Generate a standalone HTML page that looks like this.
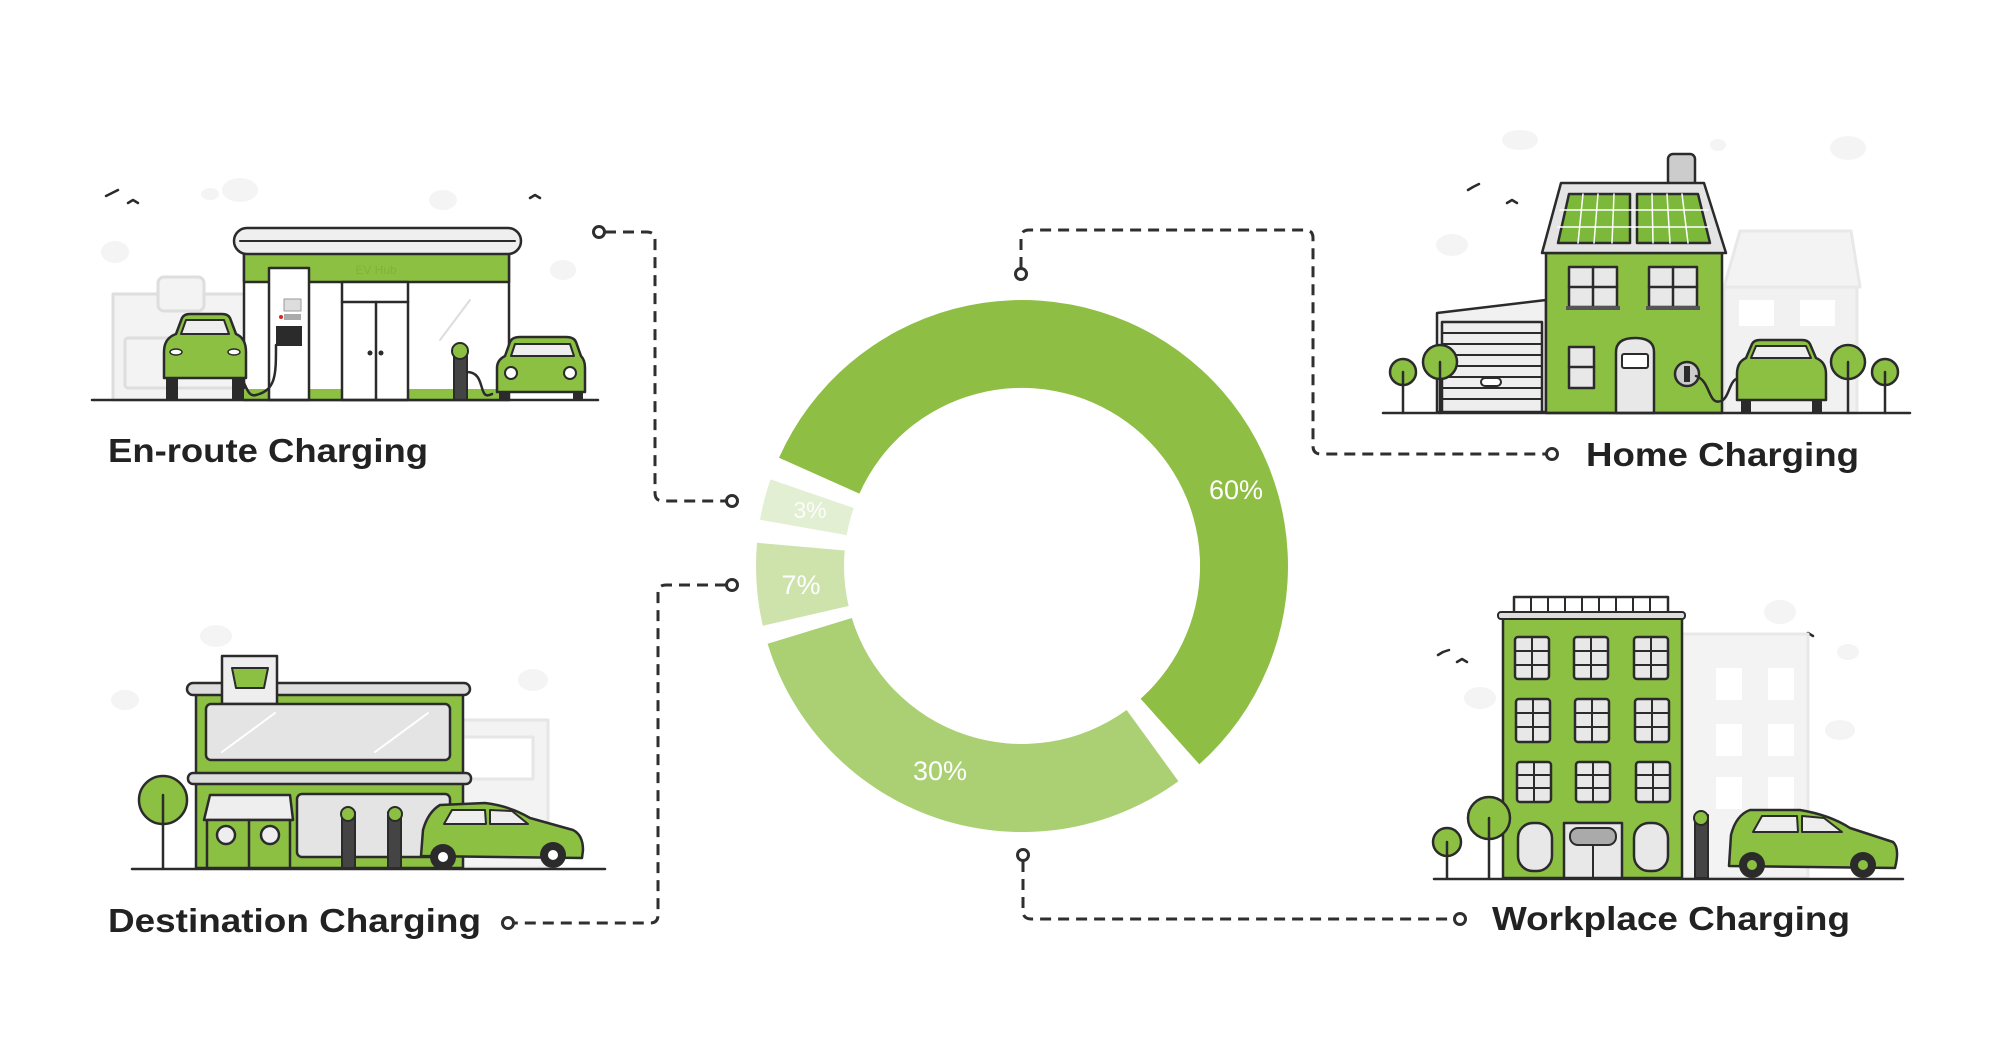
<!DOCTYPE html>
<html><head><meta charset="utf-8"><style>
html,body{margin:0;padding:0;background:#fff;}
svg{display:block;}
text{font-family:"Liberation Sans",sans-serif;}
</style></head><body>
<svg width="2000" height="1050" viewBox="0 0 2000 1050" xmlns="http://www.w3.org/2000/svg">
<rect width="2000" height="1050" fill="#fff"/>

<!-- Donut -->
<path d="M779,457.8 A266 266 0 1 1 1199.3,764.3 L1140.6,698.7 A178 178 0 1 0 859.4,493.6 Z" fill="#8fbe45"/>
<path d="M1178.4,781.2 A266 266 0 0 1 767.6,643.8 L851.8,618 A178 178 0 0 0 1126.6,710 Z" fill="#abd074"/>
<path d="M762.8,625.8 A266 266 0 0 1 757,542.8 L844.7,550.5 A178 178 0 0 0 848.6,606 Z" fill="#cde3ab"/>
<path d="M760,519.8 A266 266 0 0 1 770.5,479.4 L853.7,508 A178 178 0 0 0 846.7,535.1 Z" fill="#e2efd2"/>
<g fill="#fff" text-anchor="middle" font-size="27">
<text x="1236" y="499">60%</text>
<text x="940" y="780">30%</text>
<text x="801" y="594">7%</text>
<text x="810" y="518" font-size="23" opacity="0.9">3%</text>
</g>

<!-- Connectors -->
<g fill="none" stroke="#2f2f2f" stroke-width="3" stroke-dasharray="11 7">
<path d="M605,232 H647 Q655,232 655,240 V493 Q655,501 663,501 H726"/>
<path d="M1021,268 V238 Q1021,230 1029,230 H1305 Q1313,230 1313,238 V446 Q1313,454 1321,454 H1546"/>
<path d="M726,585 H666 Q658,585 658,593 V915 Q658,923 650,923 H514"/>
<path d="M1023,861 V911 Q1023,919 1031,919 H1454"/>
</g>
<g fill="#fff" stroke="#2f2f2f" stroke-width="3">
<circle cx="599" cy="232" r="5.5"/><circle cx="732" cy="501" r="5.5"/>
<circle cx="1021" cy="274" r="5.5"/><circle cx="1552" cy="454" r="5.5"/>
<circle cx="732" cy="585" r="5.5"/><circle cx="508" cy="923" r="5.5"/>
<circle cx="1023" cy="855" r="5.5"/><circle cx="1460" cy="919" r="5.5"/>
</g>

<!-- Labels -->
<g fill="#222" font-weight="bold" font-size="33">
<text x="108" y="462" textLength="320" lengthAdjust="spacingAndGlyphs">En-route Charging</text>
<text x="1586" y="466" textLength="273" lengthAdjust="spacingAndGlyphs">Home Charging</text>
<text x="108" y="932" textLength="373" lengthAdjust="spacingAndGlyphs">Destination Charging</text>
<text x="1492" y="930" textLength="358" lengthAdjust="spacingAndGlyphs">Workplace Charging</text>
</g>

<!-- ===== En-route illustration ===== -->
<g stroke-linecap="round" stroke-linejoin="round">
<g fill="#f4f4f4">
<ellipse cx="240" cy="190" rx="18" ry="12"/><ellipse cx="210" cy="194" rx="9" ry="6"/>
<ellipse cx="443" cy="200" rx="14" ry="10"/><ellipse cx="115" cy="252" rx="14" ry="11"/>
<ellipse cx="563" cy="270" rx="13" ry="10"/>
</g>
<g fill="none" stroke="#2b2b2b" stroke-width="2.5">
<path d="M106,196 l6,-3 l6,-3"/><path d="M128,203 l5,-3 l5,3"/><path d="M530,198 l5,-3 l5,3"/>
</g>
<g fill="#f3f3f3" stroke="#dedede" stroke-width="3">
<rect x="113" y="294" width="135" height="106"/>
<rect x="158" y="277" width="46" height="34" rx="6"/>
<rect x="125" y="338" width="115" height="50" rx="3"/>
</g>
<rect x="244" y="252" width="265" height="148" fill="#fff" stroke="#2b2b2b" stroke-width="2.5"/>
<rect x="244" y="252" width="265" height="30" fill="#8cc043" stroke="#2b2b2b" stroke-width="2.5"/>
<text x="376" y="274" font-size="12" fill="#7db33a" text-anchor="middle">EV Hub</text>
<rect x="234" y="228" width="287" height="26" rx="13" fill="#efefef" stroke="#2b2b2b" stroke-width="2.5"/>
<line x1="240" y1="241" x2="515" y2="241" stroke="#2b2b2b" stroke-width="2"/>
<rect x="244" y="389" width="265" height="11" fill="#8cc043"/>
<rect x="342" y="282" width="66" height="118" fill="#fff" stroke="#2b2b2b" stroke-width="2.5"/>
<line x1="342" y1="302" x2="408" y2="302" stroke="#2b2b2b" stroke-width="2.5"/>
<line x1="376" y1="302" x2="376" y2="400" stroke="#2b2b2b" stroke-width="2.5"/>
<circle cx="370" cy="353" r="2.5" fill="#2b2b2b"/><circle cx="381" cy="353" r="2.5" fill="#2b2b2b"/>
<line x1="440" y1="340" x2="470" y2="300" stroke="#ddd" stroke-width="2"/>
<rect x="269" y="268" width="40" height="132" fill="#fff" stroke="#2b2b2b" stroke-width="2.5"/>
<rect x="284" y="299" width="17" height="12" fill="#ddd" stroke="#999"/>
<rect x="284" y="314" width="17" height="6" fill="#aaa"/>
<circle cx="281" cy="317" r="2" fill="#d22"/>
<rect x="276" y="326" width="26" height="20" fill="#2b2b2b"/>
<path d="M276,345 c0,30 0,45 -20,50 c-10,3 -10,-15 -20,-25" fill="none" stroke="#2b2b2b" stroke-width="2.5"/>
<path d="M164,378 L164,352 Q164,338 176,334 L182,318 Q184,314 190,314 L222,314 Q228,314 230,318 L236,334 Q246,338 246,352 L246,378 Z" fill="#8cc043" stroke="#2b2b2b" stroke-width="2.5"/>
<path d="M186,320 L224,320 L229,334 L181,334 Z" fill="#eee" stroke="#2b2b2b" stroke-width="2"/>
<rect x="166" y="378" width="12" height="22" fill="#2b2b2b"/><rect x="232" y="378" width="12" height="22" fill="#2b2b2b"/>
<ellipse cx="176" cy="352" rx="6" ry="3" fill="#fff" stroke="#2b2b2b" stroke-width="1.5"/>
<ellipse cx="234" cy="352" rx="6" ry="3" fill="#fff" stroke="#2b2b2b" stroke-width="1.5"/>
<rect x="454" y="350" width="13" height="50" fill="#444" stroke="#2b2b2b" stroke-width="2"/>
<circle cx="460" cy="351" r="8" fill="#8cc043" stroke="#2b2b2b" stroke-width="2"/>
<path d="M467,372 c20,0 10,30 25,22" fill="none" stroke="#2b2b2b" stroke-width="2.5"/>
<path d="M497,392 L497,368 Q497,360 505,356 L510,342 Q512,337 520,337 L566,337 Q574,337 576,342 L581,356 Q585,360 585,368 L585,392 Z" fill="#8cc043" stroke="#2b2b2b" stroke-width="2.5"/>
<path d="M515,344 L570,344 L574,356 L511,356 Z" fill="#eee" stroke="#2b2b2b" stroke-width="2"/>
<circle cx="511" cy="373" r="6" fill="#fff" stroke="#2b2b2b" stroke-width="2"/><circle cx="570" cy="373" r="6" fill="#fff" stroke="#2b2b2b" stroke-width="2"/>
<rect x="499" y="392" width="10" height="8" fill="#2b2b2b"/><rect x="573" y="392" width="10" height="8" fill="#2b2b2b"/>
<line x1="92" y1="400" x2="598" y2="400" stroke="#2b2b2b" stroke-width="2.5"/>
</g>

<!-- ===== Home illustration ===== -->
<g stroke-linecap="round" stroke-linejoin="round">
<g fill="#f4f4f4">
<ellipse cx="1520" cy="140" rx="18" ry="10"/><ellipse cx="1848" cy="148" rx="18" ry="12"/>
<ellipse cx="1452" cy="245" rx="16" ry="11"/><ellipse cx="1718" cy="145" rx="8" ry="6"/>
</g>
<g fill="none" stroke="#2b2b2b" stroke-width="2.5">
<path d="M1468,190 l5,-3 l6,-3"/><path d="M1507,203 l5,-3 l5,3"/>
</g>
<path d="M1724,287 L1740,231 L1851,231 L1860,287 Z" fill="#f3f3f3" stroke="#e8e8e8" stroke-width="3"/>
<rect x="1724" y="287" width="133" height="126" fill="#f1f1f1" stroke="#e8e8e8" stroke-width="3"/>
<rect x="1739" y="300" width="35" height="26" fill="#fff"/><rect x="1800" y="300" width="35" height="26" fill="#fff"/>
<path d="M1437,313 L1437,412 L1546,412 L1546,300 Z" fill="#f1f1f1" stroke="#2b2b2b" stroke-width="2.5"/>
<rect x="1442" y="322" width="100" height="90" fill="#eee" stroke="#2b2b2b" stroke-width="2.5"/>
<g stroke="#2b2b2b" stroke-width="2"><line x1="1442" y1="333" x2="1542" y2="333"/><line x1="1442" y1="344" x2="1542" y2="344"/><line x1="1442" y1="355" x2="1542" y2="355"/><line x1="1442" y1="366" x2="1542" y2="366"/><line x1="1442" y1="377" x2="1542" y2="377"/><line x1="1442" y1="388" x2="1542" y2="388"/><line x1="1442" y1="399" x2="1542" y2="399"/></g>
<rect x="1481" y="378" width="20" height="8" rx="4" fill="#fff" stroke="#2b2b2b" stroke-width="2"/>
<rect x="1668" y="154" width="27" height="32" rx="5" fill="#ccc" stroke="#2b2b2b" stroke-width="2.5"/>
<rect x="1546" y="253" width="176" height="160" fill="#8cc043" stroke="#2b2b2b" stroke-width="2.5"/>
<path d="M1542,253 L1561,183 L1704,183 L1726,253 Z" fill="#e4e4e4" stroke="#2b2b2b" stroke-width="2.5"/>
<path d="M1558,243 L1569,194 L1630,194 L1630,243 Z" fill="#7cb83a" stroke="#2b2b2b" stroke-width="2.5"/>
<path d="M1637,243 L1637,194 L1698,194 L1710,243 Z" fill="#7cb83a" stroke="#2b2b2b" stroke-width="2.5"/>
<g stroke="#fff" stroke-width="1.5"><line x1="1560" y1="210" x2="1708" y2="210"/><line x1="1558" y1="227" x2="1709" y2="227"/>
<line x1="1583" y1="194" x2="1578" y2="243"/><line x1="1598" y1="194" x2="1594" y2="243"/><line x1="1614" y1="194" x2="1612" y2="243"/>
<line x1="1652" y1="194" x2="1653" y2="243"/><line x1="1667" y1="194" x2="1670" y2="243"/><line x1="1682" y1="194" x2="1688" y2="243"/></g>
<g fill="#e8e8e8" stroke="#2b2b2b" stroke-width="2.5">
<rect x="1569" y="267" width="48" height="40"/><rect x="1649" y="267" width="48" height="40"/>
<rect x="1569" y="347" width="25" height="41"/>
<path d="M1616,413 L1616,352 Q1616,338 1635,338 Q1654,338 1654,352 L1654,413 Z"/>
</g>
<g stroke="#2b2b2b" stroke-width="2.5"><line x1="1593" y1="267" x2="1593" y2="307"/><line x1="1569" y1="287" x2="1617" y2="287"/>
<line x1="1673" y1="267" x2="1673" y2="307"/><line x1="1649" y1="287" x2="1697" y2="287"/><line x1="1569" y1="367" x2="1594" y2="367"/></g>
<rect x="1566" y="306" width="54" height="4" fill="#555"/><rect x="1646" y="306" width="54" height="4" fill="#555"/>
<rect x="1622" y="354" width="26" height="14" rx="2" fill="#fff" stroke="#2b2b2b" stroke-width="2"/>
<circle cx="1687" cy="374" r="12" fill="#ccc" stroke="#2b2b2b" stroke-width="2.5"/><rect x="1684" y="366" width="6" height="16" fill="#2b2b2b"/>
<path d="M1696,376 c15,5 12,30 25,25 c8,-3 8,-18 15,-22" fill="none" stroke="#2b2b2b" stroke-width="2.5"/>
<path d="M1737,400 L1737,374 Q1737,362 1746,358 L1752,344 Q1754,340 1760,340 L1802,340 Q1808,340 1810,344 L1816,358 Q1826,362 1826,374 L1826,400 Z" fill="#8cc043" stroke="#2b2b2b" stroke-width="2.5"/>
<path d="M1756,346 L1806,346 L1811,358 L1751,358 Z" fill="#eee" stroke="#2b2b2b" stroke-width="2"/>
<rect x="1741" y="400" width="10" height="13" fill="#2b2b2b"/><rect x="1812" y="400" width="10" height="13" fill="#2b2b2b"/>
<g fill="#8cc043" stroke="#2b2b2b" stroke-width="2.5">
<circle cx="1403" cy="372" r="13"/><circle cx="1440" cy="362" r="17"/><circle cx="1848" cy="362" r="17"/><circle cx="1885" cy="372" r="13"/>
</g>
<g stroke="#2b2b2b" stroke-width="2.5"><line x1="1403" y1="372" x2="1403" y2="413"/><line x1="1440" y1="362" x2="1440" y2="413"/><line x1="1848" y1="362" x2="1848" y2="413"/><line x1="1885" y1="372" x2="1885" y2="413"/></g>
<line x1="1383" y1="413" x2="1910" y2="413" stroke="#2b2b2b" stroke-width="2.5"/>
</g>

<!-- ===== Destination illustration ===== -->
<g stroke-linecap="round" stroke-linejoin="round">
<g fill="#f4f4f4"><ellipse cx="216" cy="636" rx="16" ry="11"/><ellipse cx="125" cy="700" rx="14" ry="10"/><ellipse cx="533" cy="680" rx="15" ry="11"/></g>
<rect x="463" y="720" width="85" height="148" fill="#f3f3f3" stroke="#e6e6e6" stroke-width="3"/>
<rect x="463" y="737" width="70" height="42" fill="#fff" stroke="#e6e6e6" stroke-width="3"/>
<rect x="196" y="692" width="267" height="176" fill="#8cc043" stroke="#2b2b2b" stroke-width="2.5"/>
<rect x="187" y="683" width="283" height="12" rx="6" fill="#ddd" stroke="#2b2b2b" stroke-width="2.5"/>
<rect x="222" y="656" width="55" height="48" fill="#eee" stroke="#2b2b2b" stroke-width="2.5"/>
<path d="M232,668 L268,668 L264,688 L236,688 Z" fill="#8cc043" stroke="#2b2b2b" stroke-width="2"/>
<rect x="206" y="704" width="244" height="56" rx="5" fill="#e4e4e4" stroke="#2b2b2b" stroke-width="2.5"/>
<g stroke="#fff" stroke-width="2"><line x1="222" y1="752" x2="275" y2="713"/><line x1="375" y1="752" x2="428" y2="713"/></g>
<rect x="188" y="773" width="283" height="11" rx="5" fill="#ddd" stroke="#2b2b2b" stroke-width="2.5"/>
<path d="M204,820 L210,795 L290,795 L293,820 Z" fill="#eee" stroke="#2b2b2b" stroke-width="2.5"/>
<rect x="207" y="820" width="83" height="48" fill="#8cc043" stroke="#2b2b2b" stroke-width="2.5"/>
<line x1="249" y1="820" x2="249" y2="868" stroke="#2b2b2b" stroke-width="2.5"/>
<circle cx="226" cy="835" r="9" fill="#eee" stroke="#2b2b2b" stroke-width="2.5"/><circle cx="270" cy="835" r="9" fill="#eee" stroke="#2b2b2b" stroke-width="2.5"/>
<rect x="297" y="794" width="153" height="63" rx="5" fill="#e4e4e4" stroke="#2b2b2b" stroke-width="2.5"/>
<rect x="342" y="812" width="13" height="56" fill="#444" stroke="#2b2b2b" stroke-width="2"/><circle cx="348" cy="814" r="7" fill="#8cc043" stroke="#2b2b2b" stroke-width="2"/>
<rect x="388" y="812" width="13" height="56" fill="#444" stroke="#2b2b2b" stroke-width="2"/><circle cx="395" cy="814" r="7" fill="#8cc043" stroke="#2b2b2b" stroke-width="2"/>
<path d="M421,856 L423,830 Q428,812 440,805 L485,803 Q510,806 530,818 L573,830 Q583,835 583,850 L582,858 Z" fill="#8cc043" stroke="#2b2b2b" stroke-width="2.5"/>
<path d="M444,824 L452,810 L485,810 L486,824 Z M490,810 L512,811 L528,824 L490,824 Z" fill="#eee" stroke="#2b2b2b" stroke-width="2"/>
<circle cx="443" cy="857" r="13" fill="#2b2b2b"/><circle cx="443" cy="857" r="5" fill="#fff"/>
<circle cx="553" cy="855" r="13" fill="#2b2b2b"/><circle cx="553" cy="855" r="5" fill="#fff"/>
<circle cx="163" cy="800" r="24" fill="#8cc043" stroke="#2b2b2b" stroke-width="2.5"/>
<line x1="163" y1="795" x2="163" y2="868" stroke="#2b2b2b" stroke-width="2.5"/>
<line x1="132" y1="869" x2="605" y2="869" stroke="#2b2b2b" stroke-width="2.5"/>
</g>

<!-- ===== Workplace illustration ===== -->
<g stroke-linecap="round" stroke-linejoin="round">
<g fill="#f4f4f4"><ellipse cx="1480" cy="698" rx="16" ry="11"/><ellipse cx="1780" cy="612" rx="16" ry="12"/><ellipse cx="1840" cy="730" rx="15" ry="10"/><ellipse cx="1848" cy="652" rx="11" ry="8"/></g>
<g fill="none" stroke="#2b2b2b" stroke-width="2.5"><path d="M1438,655 l5,-3 l6,-2"/><path d="M1457,662 l5,-3 l5,3"/><path d="M1803,636 l5,-3 l5,3"/></g>
<rect x="1682" y="634" width="126" height="244" fill="#f3f3f3" stroke="#e8e8e8" stroke-width="3"/>
<g fill="#fff"><rect x="1716" y="668" width="26" height="32"/><rect x="1768" y="668" width="26" height="32"/><rect x="1716" y="724" width="26" height="32"/><rect x="1768" y="724" width="26" height="32"/><rect x="1716" y="777" width="26" height="32"/><rect x="1768" y="777" width="26" height="32"/></g>
<rect x="1514" y="597" width="154" height="16" fill="#fff" stroke="#2b2b2b" stroke-width="2.5"/>
<g stroke="#2b2b2b" stroke-width="2"><line x1="1531" y1="597" x2="1531" y2="613"/><line x1="1548" y1="597" x2="1548" y2="613"/><line x1="1565" y1="597" x2="1565" y2="613"/><line x1="1582" y1="597" x2="1582" y2="613"/><line x1="1599" y1="597" x2="1599" y2="613"/><line x1="1616" y1="597" x2="1616" y2="613"/><line x1="1633" y1="597" x2="1633" y2="613"/><line x1="1650" y1="597" x2="1650" y2="613"/></g>
<rect x="1503" y="617" width="179" height="261" fill="#8cc043" stroke="#2b2b2b" stroke-width="2.5"/>
<rect x="1498" y="612" width="187" height="7" rx="3" fill="#ddd" stroke="#2b2b2b" stroke-width="2"/>
<g fill="#e8e8e8" stroke="#2b2b2b" stroke-width="2.5">
<rect x="1515" y="637" width="34" height="42" rx="3"/><rect x="1574" y="637" width="34" height="42" rx="3"/><rect x="1634" y="637" width="34" height="42" rx="3"/>
<rect x="1516" y="699" width="34" height="43" rx="3"/><rect x="1575" y="699" width="34" height="43" rx="3"/><rect x="1635" y="699" width="34" height="43" rx="3"/>
<rect x="1517" y="762" width="34" height="40" rx="3"/><rect x="1576" y="762" width="34" height="40" rx="3"/><rect x="1636" y="762" width="34" height="40" rx="3"/>
<rect x="1518" y="823" width="34" height="48" rx="15"/><rect x="1634" y="823" width="34" height="48" rx="15"/>
<rect x="1564" y="823" width="58" height="55"/>
</g>
<g stroke="#2b2b2b" stroke-width="2">
<path d="M1532,637v42M1515,651h34M1515,665h34M1591,637v42M1574,651h34M1574,665h34M1651,637v42M1634,651h34M1634,665h34"/>
<path d="M1533,699v43M1516,713h34M1516,727h34M1592,699v43M1575,713h34M1575,727h34M1652,699v43M1635,713h34M1635,727h34"/>
<path d="M1534,762v40M1517,775h34M1517,788h34M1593,762v40M1576,775h34M1576,788h34M1653,762v40M1636,775h34M1636,788h34"/>
<line x1="1593" y1="845" x2="1593" y2="878"/>
</g>
<rect x="1570" y="828" width="46" height="17" rx="8" fill="#aaa" stroke="#2b2b2b" stroke-width="2"/>
<rect x="1695" y="815" width="13" height="63" fill="#444" stroke="#2b2b2b" stroke-width="2"/><circle cx="1701" cy="818" r="7" fill="#8cc043" stroke="#2b2b2b" stroke-width="2"/>
<path d="M1729,866 L1731,835 Q1736,815 1750,810 L1800,810 Q1830,815 1850,828 L1893,842 Q1900,848 1895,868 Z" fill="#8cc043" stroke="#2b2b2b" stroke-width="2.5"/>
<path d="M1753,832 L1762,816 L1797,816 L1798,832 Z M1802,816 L1824,818 L1842,832 L1802,832 Z" fill="#eee" stroke="#2b2b2b" stroke-width="2"/>
<circle cx="1752" cy="865" r="13" fill="#2b2b2b"/><circle cx="1752" cy="865" r="5" fill="#8cc043"/>
<circle cx="1863" cy="865" r="13" fill="#2b2b2b"/><circle cx="1863" cy="865" r="5" fill="#8cc043"/>
<circle cx="1447" cy="842" r="14" fill="#8cc043" stroke="#2b2b2b" stroke-width="2.5"/><line x1="1447" y1="842" x2="1447" y2="878" stroke="#2b2b2b" stroke-width="2.5"/>
<circle cx="1489" cy="818" r="21" fill="#8cc043" stroke="#2b2b2b" stroke-width="2.5"/><line x1="1489" y1="818" x2="1489" y2="878" stroke="#2b2b2b" stroke-width="2.5"/>
<line x1="1434" y1="879" x2="1903" y2="879" stroke="#2b2b2b" stroke-width="2.5"/>
</g>
</svg>
</body></html>
